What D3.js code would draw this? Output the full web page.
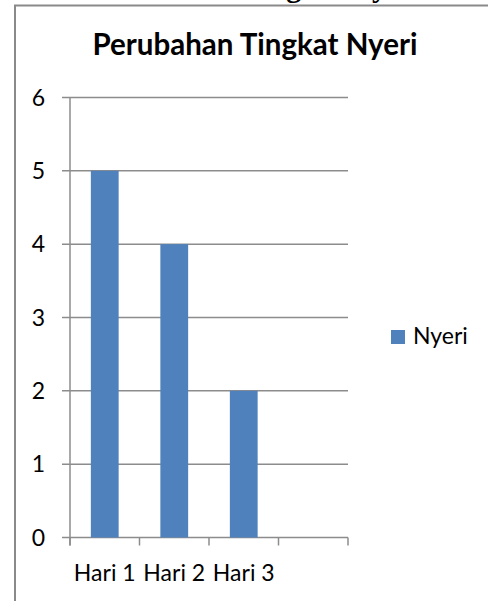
<!DOCTYPE html>
<html>
<head>
<meta charset="utf-8">
<script src="https://cdn.jsdelivr.net/npm/d3@7"></script>
<style>
  body { margin: 0; background: #fff; }
  svg { display: block; }
  text { font-family: Lato, "Open Sans", sans-serif; fill: #000; }
</style>
</head>
<body>
<div id="chart"></div>
<script>
// data
var categories = ["Hari 1", "Hari 2", "Hari 3", ""];
var nyeri = [5, 4, 2, null];
var yTicks = [0, 1, 2, 3, 4, 5, 6];
var seriesName = "Nyeri";
var title = "Perubahan Tingkat Nyeri";

var width = 488, height = 601;
var plot = {left: 70, right: 348, top: 97.5, bottom: 537.5};

var svg = d3.select("#chart").append("svg")
    .attr("width", width)
    .attr("height", height);

// heading of the document, cut off by the top edge
svg.append("text")
    .attr("x", 422)
    .attr("y", -3)
    .attr("text-anchor", "end")
    .style("font-family", "'Liberation Serif', serif")
    .style("font-weight", "bold")
    .style("font-size", "30px")
    .text(title);

// chart frame (runs off the right and bottom)
svg.append("path")
    .attr("d", "M15,610V5.5H500")
    .attr("fill", "none")
    .attr("stroke", "#8a8a8a")
    .attr("stroke-width", 2);

svg.append("text")
    .attr("x", 255)
    .attr("y", 55)
    .attr("text-anchor", "middle")
    .style("font-weight", "bold")
    .style("font-size", "29.5px")
    .text(title);

var x = d3.scaleBand()
    .domain(categories.map(function(d, i) { return i; }))
    .range([plot.left, plot.right])
    .paddingInner(0.6)
    .paddingOuter(0.3);

var y = d3.scaleLinear()
    .domain([0, 6])
    .range([plot.bottom, plot.top]);

// gridlines + y ticks
svg.append("g")
    .selectAll("line")
    .data(yTicks)
    .enter().append("line")
    .attr("x1", plot.left - 8)
    .attr("x2", plot.right)
    .attr("y1", function(d) { return y(d); })
    .attr("y2", function(d) { return y(d); })
    .attr("stroke", "#8c8c8c")
    .attr("stroke-width", 1.5);

svg.append("g")
    .selectAll("text")
    .data(yTicks)
    .enter().append("text")
    .attr("x", 45)
    .attr("y", function(d) { return y(d); })
    .attr("dy", "0.36em")
    .attr("text-anchor", "end")
    .style("font-size", "23px")
    .text(function(d) { return d; });

// y axis line
svg.append("line")
    .attr("x1", plot.left).attr("x2", plot.left)
    .attr("y1", y(6)).attr("y2", y(0) + 8)
    .attr("stroke", "#8c8c8c")
    .attr("stroke-width", 1.5);

// x ticks at category boundaries
var step = x.step();
var bounds = d3.range(categories.length + 1);
svg.append("g")
    .selectAll("line")
    .data(bounds)
    .enter().append("line")
    .attr("x1", function(i) { return plot.left + i * step; })
    .attr("x2", function(i) { return plot.left + i * step; })
    .attr("y1", y(0))
    .attr("y2", y(0) + 8)
    .attr("stroke", "#8c8c8c")
    .attr("stroke-width", 1.5);

// bars
svg.append("g")
    .selectAll("rect")
    .data(nyeri.map(function(v, i) { return {i: i, v: v}; }).filter(function(d) { return d.v != null; }))
    .enter().append("rect")
    .attr("x", function(d) { return x(d.i); })
    .attr("width", x.bandwidth())
    .attr("y", function(d) { return y(d.v); })
    .attr("height", function(d) { return y(0) - y(d.v); })
    .attr("fill", "#4f81bd");

// x labels
svg.append("g")
    .selectAll("text")
    .data(categories)
    .enter().append("text")
    .attr("x", function(d, i) { return plot.left + (i + 0.5) * step; })
    .attr("y", 581)
    .attr("text-anchor", "middle")
    .style("font-size", "23px")
    .text(function(d) { return d; });

// legend
svg.append("rect")
    .attr("x", 391).attr("y", 330)
    .attr("width", 14).attr("height", 14)
    .attr("fill", "#4f81bd");

svg.append("text")
    .attr("x", 413)
    .attr("y", 344)
    .style("font-size", "23px")
    .text(seriesName);
</script>
</body>
</html>
